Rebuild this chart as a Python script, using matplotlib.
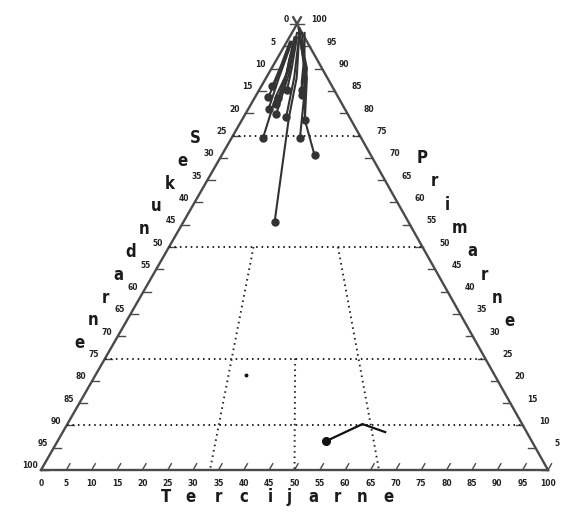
import numpy as np
import matplotlib.pyplot as plt

# ternary data: P = primarne (%), T = tercijarne (%), S = 100 - P - T
tracks_P = [
    [98, 90, 84, 74.4],
    [99, 90, 84, 74.4],
    [98, 90, 78.5, 70.6],
    [99, 88, 79, 55.6],
    [97, 89, 79.8],
    [98, 88, 79.1],
    [97, 88, 78.5],
    [96, 90, 83.6],
    [97, 89, 83.3],
    [98, 91, 85.2],
    [97, 90, 85.2],
    [96, 88, 81],
    [97, 92, 86, 82],
    [98, 93, 87, 84],
    [96, 91, 86],
]
tracks_T = [
    [1.0, 3.5, 4.0, 6.2],
    [0.8, 7.0, 9.5, 13.5],
    [1.5, 6.5, 12.4, 18.3],
    [1.0, 6.0, 9.0, 18.0],
    [1.2, 4.0, 6.1],
    [1.5, 5.5, 8.4],
    [2.0, 8.0, 12.4],
    [0.8, 2.0, 2.6],
    [1.0, 3.5, 4.7],
    [2.0, 6.0, 8.5],
    [1.5, 4.0, 5.5],
    [1.0, 2.5, 4.0],
    [1.2, 2.5, 4.5, 5.0],
    [2.5, 5.0, 7.5, 9.0],
    [0.6, 1.5, 2.2],
]
low_P = [6.5, 10.3, 8.5]
low_T = [53.0, 58.2, 63.6]
dot_P = [21.3]
dot_T = [29.6]

h_levels = [75, 50, 25, 10]          # horizontal dotted lines (P)
ratio_lines = [(1/3, 50), (2/3, 50), (1/2, 25)]  # T/(S+T), from P down to 0

tick_vals = list(range(0, 101, 5))
name_bottom = "Tercijarne"
name_left = "Sekundarne"
name_right = "Primarne"

SK = 0.505  # apex sits at x = 50.5 on the scan


def xy(T, P):
    T = np.asarray(T, float)
    P = np.asarray(P, float)
    return T + SK * P, P


fig = plt.figure(figsize=(5.62, 5.13), dpi=100)
ax = fig.add_axes([41/562, 43/513, 507/562, 446/513])
ax.set_xlim(0, 100)
ax.set_ylim(0, 100)
ax.axis('off')

edge = '#4a4a4a'
ink = '#333333'

# triangle sides (slightly overshooting at the apex)
ax.plot([0, 100], [0, 0], color=edge, lw=1.7, clip_on=False)
x0, y0 = xy(0, 0); x1, y1 = xy(0, 101.5)
ax.plot([x0, x1], [y0, y1], color=edge, lw=1.7, clip_on=False)
x0, y0 = xy(100, 0); x1, y1 = xy(-1.5, 101.5)
ax.plot([x0, x1], [y0, y1], color=edge, lw=1.7, clip_on=False)

# ticks and labels
tl = 1.4
num = dict(ha='center', va='center', fontsize=5.5, weight='bold', color='#222',
           textcoords='offset pixels')
for v in tick_vals:
    # bottom: T = v
    bx, by = xy(v, 0)
    ax.plot([bx, bx + SK * tl], [by, by + tl], color=edge, lw=1, clip_on=False)
    ax.annotate(str(v), (bx, by), xytext=(0, -13), **num)
    # left: S = v
    lx, ly = xy(0, 100 - v)
    ax.plot([lx, lx + tl], [ly, ly], color=edge, lw=1, clip_on=False)
    ax.annotate(str(v), (lx, ly), xytext=(-11, 4), **num)
    # right: P = v (P = 0 falls off the page)
    rx, ry = xy(100 - v, v)
    ax.plot([rx, rx - tl], [ry, ry], color=edge, lw=1, clip_on=False)
    if v > 0:
        ax.annotate(str(v), (rx, ry), xytext=(22, 4), **num)

# dotted grid
dots = dict(color='#222', lw=1.4, ls=(0, (0.8, 2.0)))
for p in h_levels:
    xa, ya = xy(0, p)
    xb, yb = xy(100 - p, p)
    ax.plot([xa, xb], [ya, yb], **dots)
for r, p in ratio_lines:
    xa, ya = xy(r * (100 - p), p)
    xb, yb = xy(r * 100, 0)
    ax.plot([xa, xb], [ya, yb], **dots)

# data tracks
for P, T in zip(tracks_P, tracks_T):
    x, y = xy(T, P)
    ax.plot(x, y, color=ink, lw=1.5)
    ax.plot(x[-1], y[-1], 'o', color=ink, ms=5)
x, y = xy(low_T, low_P)
ax.plot(x, y, color='#111', lw=1.6)
ax.plot(x[0], y[0], 'o', color='#111', ms=5.5)
x, y = xy(dot_T, dot_P)
ax.plot(x, y, 'o', color='#111', ms=1.8)

# axis names, letter by letter
lt = dict(fontsize=12, weight='bold', color='#1a1a1a', family='DejaVu Sans',
          stretch='condensed', ha='center', va='center')
bx = [166, 190, 218, 244, 270, 289, 313, 337, 362, 388]
for ch, px in zip(name_bottom, bx):
    fig.text(px / 562, 1 - 497 / 513, ch, **lt)
for i, ch in enumerate(name_left):
    fig.text((195 - 12.8 * i) / 562, 1 - (138 + 22.8 * i) / 513, ch, **lt)
for i, ch in enumerate(name_right):
    fig.text((422 + 12.5 * i) / 562, 1 - (158 + 23.3 * i) / 513, ch, **lt)

fig.savefig('out.png', dpi=100)
